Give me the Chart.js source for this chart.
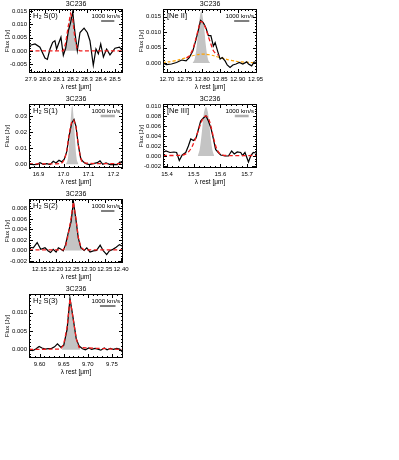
<!DOCTYPE html>
<html>
<head>
<meta charset="utf-8">
<script src="https://cdn.jsdelivr.net/npm/chart.js@4.4.1/dist/chart.umd.min.js"></script>
<style>
  body { margin: 0; background: #fff; width: 399px; height: 460px; position: relative; overflow: hidden; }
  canvas { position: absolute; }
</style>
</head>
<body>
<script>
// 3C236 Spitzer IRS 谱线拟合面板 — 数值从原图读出

const C_KMS = 299792.458;

// ---- H2 S(0)
const s0Wave = [27.888, 27.929, 27.964, 28.000, 28.017, 28.036, 28.055, 28.071, 28.083, 28.102, 28.114, 28.131, 28.148, 28.167, 28.183, 28.198, 28.214, 28.231, 28.250, 28.279, 28.302, 28.321, 28.345, 28.364, 28.381, 28.398, 28.417, 28.440, 28.464, 28.500, 28.531, 28.555];
const s0Flux = [0.0020, 0.0026, 0.0014, -0.0027, -0.0032, 0.0007, 0.0032, 0.0038, 0.0007, 0.0034, 0.0051, -0.0017, 0.0010, 0.0075, 0.0106, 0.0146, 0.0069, 0.0001, 0.0069, 0.0085, 0.0069, 0.0038, -0.0054, 0.0007, -0.0011, 0.0026, -0.0023, 0.0007, -0.0015, 0.0010, 0.0014, 0.0001];
const s0FitWave = [27.886, 28.131, 28.148, 28.167, 28.183, 28.198, 28.214, 28.231, 28.250, 28.557];
const s0FitFlux = [0.0000, 0.0000, 0.0030, 0.0095, 0.0140, 0.0120, 0.0045, 0.0006, 0.0000, 0.0000];
const s0LineWave = [28.135, 28.148, 28.167, 28.183, 28.198, 28.214, 28.233];
const s0LineFlux = [0.0000, 0.0030, 0.0095, 0.0143, 0.0120, 0.0045, 0.0000];
const s0XTicks = ['27.9', '28.0', '28.1', '28.2', '28.3', '28.4', '28.5'];
const s0YTicks = ['-0.005', '0.000', '0.005', '0.010', '0.015'];
const s0XRange = [27.886, 28.557];
const s0YRange = [-0.0083, 0.0157];

// ---- H2 S(1)
const s1Wave = [16.863, 16.879, 16.895, 16.906, 16.919, 16.933, 16.946, 16.959, 16.970, 16.982, 16.993, 17.003, 17.013, 17.022, 17.033, 17.042, 17.050, 17.059, 17.069, 17.079, 17.090, 17.103, 17.119, 17.135, 17.146, 17.157, 17.170, 17.186, 17.199, 17.215, 17.226, 17.237];
const s1Flux = [0.0004, -0.0002, 0.0000, 0.0010, 0.0000, 0.0004, -0.0002, 0.0019, 0.0008, 0.0025, 0.0015, 0.0032, 0.0078, 0.0173, 0.0257, 0.0278, 0.0236, 0.0120, 0.0035, 0.0015, 0.0004, -0.0002, 0.0004, 0.0010, 0.0021, 0.0000, 0.0008, -0.0002, 0.0000, -0.0002, 0.0015, 0.0008];
const s1FitWave = [16.862, 16.990, 17.003, 17.013, 17.022, 17.033, 17.040, 17.050, 17.059, 17.069, 17.079, 17.238];
const s1FitFlux = [0.0003, 0.0006, 0.0030, 0.0085, 0.0180, 0.0262, 0.0275, 0.0230, 0.0125, 0.0040, 0.0010, 0.0003];
const s1LineWave = [17.010, 17.017, 17.023, 17.029, 17.035, 17.041, 17.047, 17.053, 17.060];
const s1LineFlux = [0.0000, 0.0030, 0.0130, 0.0280, 0.0365, 0.0280, 0.0130, 0.0030, 0.0000];
const s1XTicks = ['16.9', '17.0', '17.1', '17.2'];
const s1YTicks = ['0.00', '0.01', '0.02', '0.03'];
const s1XRange = [16.862, 17.238];
const s1YRange = [-0.0023, 0.0374];

// ---- H2 S(2)
const s2Wave = [12.121, 12.131, 12.143, 12.154, 12.167, 12.177, 12.184, 12.192, 12.201, 12.208, 12.216, 12.223, 12.230, 12.238, 12.247, 12.254, 12.262, 12.269, 12.277, 12.287, 12.295, 12.305, 12.315, 12.325, 12.336, 12.346, 12.356, 12.364, 12.375, 12.385, 12.395, 12.405];
const s2Flux = [0.0006, 0.0005, 0.0015, 0.0002, 0.0005, -0.0001, -0.0004, 0.0002, -0.0003, 0.0005, 0.0002, -0.0001, 0.0011, 0.0033, 0.0055, 0.0093, 0.0058, 0.0024, 0.0005, 0.0000, 0.0005, -0.0003, -0.0001, 0.0000, 0.0010, -0.0001, -0.0008, -0.0001, 0.0002, 0.0006, 0.0011, 0.0008];
const s2FitWave = [12.118, 12.223, 12.230, 12.238, 12.247, 12.254, 12.262, 12.269, 12.277, 12.287, 12.406];
const s2FitFlux = [0.0001, 0.0001, 0.0007, 0.0030, 0.0062, 0.0092, 0.0060, 0.0025, 0.0006, 0.0001, 0.0001];
const s2LineWave = [12.228, 12.238, 12.247, 12.254, 12.262, 12.269, 12.280];
const s2LineFlux = [0.0000, 0.0030, 0.0062, 0.0092, 0.0060, 0.0025, 0.0000];
const s2XTicks = ['12.15', '12.20', '12.25', '12.30', '12.35', '12.40'];
const s2YTicks = ['-0.002', '0.000', '0.002', '0.004', '0.006', '0.008'];
const s2XRange = [12.118, 12.406];
const s2YRange = [-0.0024, 0.0098];

// ---- H2 S(3)
const s3Wave = [9.579, 9.586, 9.592, 9.599, 9.605, 9.612, 9.618, 9.625, 9.631, 9.637, 9.644, 9.650, 9.657, 9.663, 9.669, 9.676, 9.682, 9.689, 9.695, 9.702, 9.708, 9.715, 9.721, 9.727, 9.734, 9.740, 9.747, 9.753, 9.760, 9.766, 9.772];
const s3Flux = [0.0002, -0.0002, 0.0002, 0.0009, 0.0005, 0.0002, 0.0003, 0.0004, 0.0008, 0.0016, 0.0007, 0.0012, 0.0055, 0.0138, 0.0090, 0.0030, 0.0010, 0.0003, 0.0000, 0.0005, 0.0001, 0.0004, 0.0002, -0.0001, 0.0005, 0.0000, 0.0004, 0.0001, 0.0004, 0.0002, -0.0006];
const s3FitWave = [9.578, 9.644, 9.650, 9.657, 9.663, 9.669, 9.676, 9.682, 9.773];
const s3FitFlux = [0.0001, 0.0002, 0.0015, 0.0060, 0.0137, 0.0088, 0.0030, 0.0006, 0.0001];
const s3LineWave = [9.646, 9.650, 9.657, 9.663, 9.669, 9.676, 9.684];
const s3LineFlux = [0.0000, 0.0015, 0.0060, 0.0140, 0.0088, 0.0030, 0.0000];
const s3XTicks = ['9.60', '9.65', '9.70', '9.75'];
const s3YTicks = ['0.000', '0.005', '0.010'];
const s3XRange = [9.578, 9.773];
const s3YRange = [-0.0022, 0.0150];

// ---- [Ne II]
const ne2Wave = [12.688, 12.699, 12.713, 12.727, 12.742, 12.754, 12.763, 12.773, 12.782, 12.789, 12.795, 12.803, 12.810, 12.817, 12.824, 12.831, 12.836, 12.843, 12.850, 12.856, 12.864, 12.870, 12.878, 12.886, 12.895, 12.904, 12.914, 12.925, 12.930, 12.939, 12.946, 12.952];
const ne2Flux = [0.0000, -0.0005, -0.0003, 0.0002, 0.0010, 0.0007, 0.0018, 0.0039, 0.0076, 0.0108, 0.0138, 0.0130, 0.0114, 0.0089, 0.0089, 0.0055, 0.0066, 0.0039, 0.0013, 0.0018, 0.0007, -0.0006, -0.0014, -0.0006, -0.0003, 0.0002, -0.0003, 0.0004, -0.0003, -0.0009, 0.0004, 0.0002];
const ne2FitWave = [12.755, 12.763, 12.773, 12.782, 12.789, 12.795, 12.803, 12.810, 12.817, 12.824, 12.831, 12.838, 12.846];
const ne2FitFlux = [0.0017, 0.0023, 0.0045, 0.0080, 0.0112, 0.0135, 0.0128, 0.0110, 0.0085, 0.0062, 0.0040, 0.0031, 0.0025];
const ne2BroadWave = [12.688, 12.720, 12.750, 12.780, 12.800, 12.820, 12.850, 12.880, 12.910, 12.954];
const ne2BroadFlux = [0.0002, 0.0007, 0.0016, 0.0026, 0.0029, 0.0027, 0.0018, 0.0009, 0.0004, 0.0001];
const ne2LineWave = [12.772, 12.778, 12.784, 12.790, 12.797, 12.804, 12.810, 12.816, 12.822];
const ne2LineFlux = [0.0000, 0.0012, 0.0055, 0.0125, 0.0168, 0.0125, 0.0055, 0.0012, 0.0000];
const ne2XTicks = ['12.70', '12.75', '12.80', '12.85', '12.90', '12.95'];
const ne2YTicks = ['0.000', '0.005', '0.010', '0.015'];
const ne2XRange = [12.689, 12.954];
const ne2YRange = [-0.0032, 0.0175];

// ---- [Ne III]
const ne3Wave = [15.384, 15.396, 15.411, 15.426, 15.436, 15.446, 15.457, 15.470, 15.480, 15.489, 15.499, 15.509, 15.517, 15.526, 15.536, 15.546, 15.555, 15.565, 15.573, 15.582, 15.592, 15.601, 15.617, 15.630, 15.642, 15.652, 15.663, 15.676, 15.683, 15.692, 15.705, 15.714, 15.723, 15.734];
const ne3Flux = [0.0007, 0.0010, 0.0007, 0.0008, 0.0007, -0.0009, 0.0002, 0.0007, 0.0020, 0.0034, 0.0031, 0.0036, 0.0052, 0.0070, 0.0076, 0.0080, 0.0070, 0.0055, 0.0036, 0.0013, 0.0007, 0.0002, 0.0000, 0.0000, 0.0010, 0.0004, 0.0008, 0.0007, 0.0001, 0.0007, -0.0012, 0.0001, 0.0007, 0.0006];
const ne3FitWave = [15.385, 15.460, 15.480, 15.495, 15.510, 15.525, 15.537, 15.546, 15.556, 15.566, 15.577, 15.588, 15.600, 15.620, 15.737];
const ne3FitFlux = [0.0001, 0.0002, 0.0008, 0.0020, 0.0040, 0.0063, 0.0077, 0.0080, 0.0074, 0.0056, 0.0030, 0.0012, 0.0004, 0.0001, 0.0001];
const ne3LineWave = [15.515, 15.522, 15.530, 15.538, 15.546, 15.554, 15.562, 15.570, 15.577];
const ne3LineFlux = [0.0000, 0.0012, 0.0045, 0.0085, 0.0098, 0.0085, 0.0045, 0.0012, 0.0000];
const ne3XTicks = ['15.4', '15.5', '15.6', '15.7'];
const ne3YTicks = ['-0.002', '0.000', '0.002', '0.004', '0.006', '0.008', '0.010'];
const ne3XRange = [15.385, 15.737];
const ne3YRange = [-0.0024, 0.0104];

// 1000 km/s 标尺对应的谱线静止波长 (μm)
const restLambda = { s0: 28.22, s1: 17.035, s2: 12.28, s3: 9.665, ne2: 12.81, ne3: 15.55 };

const FONT = '"Liberation Sans", Arial, sans-serif';
Chart.defaults.font.family = FONT;
Chart.defaults.color = '#000';

const pts = (xs, ys) => xs.map((x, i) => ({ x: x, y: ys[i] }));

// 画框、内向刻度、标题、谱线名和速度标尺
const decorPlugin = {
  id: 'decor',
  afterDraw(chart, args, o) {
    const { ctx, chartArea: a, scales: { x, y } } = chart;
    ctx.save();
    ctx.strokeStyle = '#000';
    ctx.fillStyle = '#000';
    ctx.lineWidth = 1;
    ctx.strokeRect(Math.round(a.left) + 0.5, Math.round(a.top) + 0.5,
                   Math.round(a.right - a.left) - 1, Math.round(a.bottom - a.top) - 1);

    const seg = (x1, y1, x2, y2) => { ctx.beginPath(); ctx.moveTo(x1, y1); ctx.lineTo(x2, y2); ctx.stroke(); };
    const isMajor = (v, list) => list.some(t => Math.abs(Number(t) - v) < 1e-7);
    const minors = (min, max, step) => {
      const out = [];
      for (let i = Math.ceil(min / step - 1e-6); i <= Math.floor(max / step + 1e-6); i++) out.push(i * step);
      return out;
    };
    minors(x.min, x.max, o.xMinor).forEach(v => {
      const px = Math.round(x.getPixelForValue(v)) + 0.5;
      const len = isMajor(v, o.xt) ? 4 : 2;
      seg(px, a.bottom, px, a.bottom - len);
      seg(px, a.top, px, a.top + len);
    });
    minors(y.min, y.max, o.yMinor).forEach(v => {
      const py = Math.round(y.getPixelForValue(v)) + 0.5;
      const len = isMajor(v, o.yt) ? 4 : 2;
      seg(a.left, py, a.left + len, py);
      seg(a.right, py, a.right - len, py);
    });

    ctx.textBaseline = 'middle';
    ctx.textAlign = 'center';
    ctx.font = '7px ' + FONT;
    ctx.fillText('3C236', (a.left + a.right) / 2, a.top - 4.5);

    // 谱线名（H2 带下标）
    ctx.textAlign = 'left';
    ctx.font = '7.5px ' + FONT;
    let lx = a.left + 4;
    const ly = a.top + 7;
    if (o.sub) {
      ctx.fillText(o.label, lx, ly);
      lx += ctx.measureText(o.label).width;
      ctx.font = '5px ' + FONT;
      ctx.fillText(o.sub, lx + 0.3, ly + 2);
      lx += ctx.measureText(o.sub).width + 0.3;
      ctx.font = '7.5px ' + FONT;
      ctx.fillText(o.rest, lx, ly);
    } else {
      ctx.fillText(o.label, lx, ly);
    }

    // 1000 km/s 标尺
    ctx.font = '6.2px ' + FONT;
    ctx.textAlign = 'right';
    const tx = a.right - 3;
    ctx.fillText('1000 km/s', tx, a.top + 7);
    const tw = ctx.measureText('1000 km/s').width;
    const dl = o.lambda0 * 1000 / C_KMS;
    const bw = x.getPixelForValue(x.min + dl) - x.getPixelForValue(x.min);
    const cx = tx - tw / 2 + 2;
    ctx.strokeStyle = o.barGrey ? '#b0b0b0' : '#000';
    ctx.lineWidth = o.barGrey ? 2.5 : 1;
    seg(cx - bw / 2, a.top + 12, cx + bw / 2, a.top + 12);
    ctx.restore();
  }
};

const panels = [
  { col: 0, row: 0, wave: s0Wave, flux: s0Flux, fitW: s0FitWave, fitF: s0FitFlux, lineW: s0LineWave, lineF: s0LineFlux,
    xt: s0XTicks, yt: s0YTicks, xr: s0XRange, yr: s0YRange, label: 'H', sub: '2', rest: ' S(0)', lambda0: restLambda.s0,
    barGrey: false, xMinor: 0.02, yMinor: 0.001 },
  { col: 0, row: 1, wave: s1Wave, flux: s1Flux, fitW: s1FitWave, fitF: s1FitFlux, lineW: s1LineWave, lineF: s1LineFlux,
    xt: s1XTicks, yt: s1YTicks, xr: s1XRange, yr: s1YRange, label: 'H', sub: '2', rest: ' S(1)', lambda0: restLambda.s1,
    barGrey: true, xMinor: 0.02, yMinor: 0.002, smoothLine: true },
  { col: 0, row: 2, wave: s2Wave, flux: s2Flux, fitW: s2FitWave, fitF: s2FitFlux, lineW: s2LineWave, lineF: s2LineFlux,
    xt: s2XTicks, yt: s2YTicks, xr: s2XRange, yr: s2YRange, label: 'H', sub: '2', rest: ' S(2)', lambda0: restLambda.s2,
    barGrey: false, xMinor: 0.01, yMinor: 0.0005 },
  { col: 0, row: 3, wave: s3Wave, flux: s3Flux, fitW: s3FitWave, fitF: s3FitFlux, lineW: s3LineWave, lineF: s3LineFlux,
    xt: s3XTicks, yt: s3YTicks, xr: s3XRange, yr: s3YRange, label: 'H', sub: '2', rest: ' S(3)', lambda0: restLambda.s3,
    barGrey: false, xMinor: 0.01, yMinor: 0.001 },
  { col: 1, row: 0, wave: ne2Wave, flux: ne2Flux, fitW: ne2FitWave, fitF: ne2FitFlux, lineW: ne2LineWave, lineF: ne2LineFlux,
    broadW: ne2BroadWave, broadF: ne2BroadFlux,
    xt: ne2XTicks, yt: ne2YTicks, xr: ne2XRange, yr: ne2YRange, label: '[Ne II]', lambda0: restLambda.ne2,
    barGrey: false, xMinor: 0.01, yMinor: 0.001, smoothLine: true },
  { col: 1, row: 1, wave: ne3Wave, flux: ne3Flux, fitW: ne3FitWave, fitF: ne3FitFlux, lineW: ne3LineWave, lineF: ne3LineFlux,
    xt: ne3XTicks, yt: ne3YTicks, xr: ne3XRange, yr: ne3YRange, label: '[Ne III]', lambda0: restLambda.ne3,
    barGrey: true, xMinor: 0.02, yMinor: 0.0005, smoothLine: true }
];

const BOX_LEFT = [29, 163];
const BOX_W = 94, BOX_H = 64;
const PAD_TOP = 9, AXIS_Y_W = 29, AXIS_X_H = 20, PAD_RIGHT = 12;

panels.forEach(p => {
  const boxTop = 9 + 95 * p.row;
  const cv = document.createElement('canvas');
  const W = AXIS_Y_W + BOX_W + PAD_RIGHT, H = PAD_TOP + BOX_H + AXIS_X_H;
  cv.width = W; cv.height = H;
  cv.style.width = W + 'px'; cv.style.height = H + 'px';
  cv.style.left = (BOX_LEFT[p.col] - AXIS_Y_W) + 'px';
  cv.style.top = (boxTop - PAD_TOP) + 'px';
  document.body.appendChild(cv);

  const label = (list) => (v) => {
    const hit = list.find(t => Math.abs(Number(t) - v) < 1e-7);
    return hit === undefined ? '' : hit;
  };

  const datasets = [
    { data: pts(p.fitW, p.fitF), borderColor: '#f01c1c', borderWidth: 1.3, borderDash: [4, 2.5],
      pointRadius: 0, fill: false, order: 0, tension: p.smoothLine ? 0.3 : 0 },
    { data: pts(p.wave, p.flux), borderColor: '#000', borderWidth: 1.2, pointRadius: 0, fill: false, order: 1 },
    { data: pts(p.lineW, p.lineF), borderWidth: 0, borderColor: 'rgba(0,0,0,0)', backgroundColor: '#c4c4c4',
      pointRadius: 0, fill: 'origin', order: 3, tension: p.smoothLine ? 0.35 : 0 }
  ];
  if (p.broadW) {
    datasets.push({ data: pts(p.broadW, p.broadF), borderColor: '#ffa200', borderWidth: 1.2, borderDash: [3, 2],
      pointRadius: 0, fill: false, order: 2, tension: 0.4 });
  }

  new Chart(cv, {
    type: 'line',
    data: { datasets },
    options: {
      responsive: false,
      animation: false,
      devicePixelRatio: 1,
      layout: { padding: { left: 0, top: PAD_TOP, right: PAD_RIGHT, bottom: 0 } },
      plugins: {
        legend: { display: false },
        tooltip: { enabled: false },
        decor: { xt: p.xt, yt: p.yt, xMinor: p.xMinor, yMinor: p.yMinor, label: p.label, sub: p.sub,
                 rest: p.rest, lambda0: p.lambda0, barGrey: p.barGrey }
      },
      scales: {
        x: {
          type: 'linear', min: p.xr[0], max: p.xr[1],
          afterBuildTicks: s => { s.ticks = p.xt.map(t => ({ value: Number(t) })); },
          afterFit: s => { s.height = AXIS_X_H; },
          grid: { display: false, drawTicks: false },
          border: { display: false },
          ticks: { autoSkip: false, maxRotation: 0, padding: 2.5, color: '#000', font: { size: 6 }, callback: label(p.xt) },
          title: { display: true, text: 'λ rest [μm]', color: '#000', font: { size: 6.5 }, padding: { top: 0, bottom: 2 } }
        },
        y: {
          type: 'linear', min: p.yr[0], max: p.yr[1],
          afterBuildTicks: s => { s.ticks = p.yt.map(t => ({ value: Number(t) })); },
          afterFit: s => { s.width = AXIS_Y_W; },
          grid: { display: false, drawTicks: false },
          border: { display: false },
          ticks: { autoSkip: false, padding: 2, color: '#000', font: { size: 6 }, callback: label(p.yt) },
          title: { display: true, text: 'Flux [Jy]', color: '#000', font: { size: 6 }, padding: { top: 4, bottom: 0 } }
        }
      }
    },
    plugins: [decorPlugin]
  });
});
</script>
</body>
</html>
